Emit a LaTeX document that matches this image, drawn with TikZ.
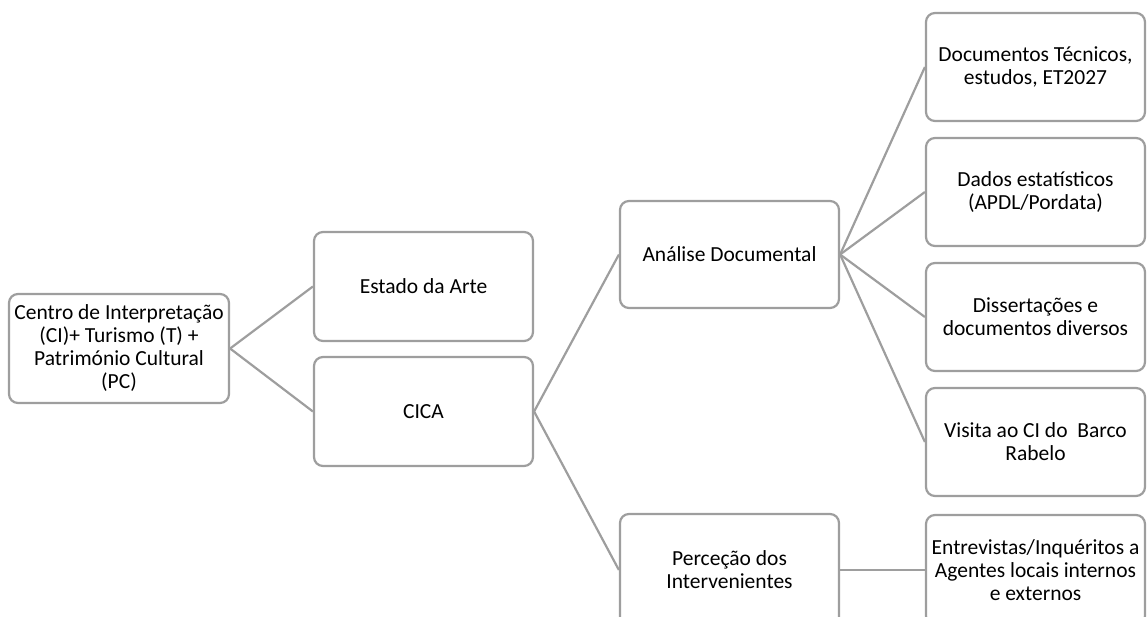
\documentclass[tikz,border=0pt]{standalone}
\usepackage{fontspec}
\setmainfont{Carlito}
\definecolor{boxgray}{RGB}{158,158,158}
\tikzset{
  bx/.style={draw=boxgray, line width=2.2pt, rounded corners=9pt, fill=white,
    minimum width=219pt, minimum height=108pt, inner sep=0pt,
    align=center, font=\fontsize{21.5pt}{23pt}\selectfont},
  conn/.style={draw=boxgray, line width=2.2pt}
}
\begin{document}
\begin{tikzpicture}[x=1pt,y=-1pt]
\useasboundingbox (0,0) rectangle (1147,616);
\clip (0,0) rectangle (1147,616);
\node[bx, minimum width=220pt, minimum height=109pt] (root) at (119,348.5) {Centro de Interpretação\\(CI)+ Turismo (T) +\\Património Cultural\\(PC)};
\node[bx, minimum height=109pt] (estado) at (423.5,286.5) {Estado da Arte};
\node[bx, minimum height=109pt] (cica) at (423.5,411.5) {CICA};
\node[bx, minimum height=107pt] (analise) at (729.5,254.5) {Análise Documental};
\node[bx, minimum height=112pt] (perc) at (729.5,570) {Perceção dos\\Intervenientes};
\node[bx] (doc) at (1035.5,67) {Documentos Técnicos,\\estudos, ET2027};
\node[bx] (dados) at (1035.5,192) {Dados estatísticos\\(APDL/Pordata)};
\node[bx] (diss) at (1035.5,317) {Dissertações e\\documentos diversos};
\node[bx] (visita) at (1035.5,442) {Visita ao CI do\ \ Barco\\Rabelo};
\node[bx, minimum height=110pt] (entre) at (1035.5,570) {Entrevistas/Inquéritos a\\Agentes locais internos\\e externos};
\draw[conn] (root.east) -- (estado.west);
\draw[conn] (root.east) -- (cica.west);
\draw[conn] (cica.east) -- (analise.west);
\draw[conn] (cica.east) -- (perc.west);
\draw[conn] (analise.east) -- (doc.west);
\draw[conn] (analise.east) -- (dados.west);
\draw[conn] (analise.east) -- (diss.west);
\draw[conn] (analise.east) -- (visita.west);
\draw[conn] (perc.east) -- (entre.west);
\end{tikzpicture}
\end{document}
